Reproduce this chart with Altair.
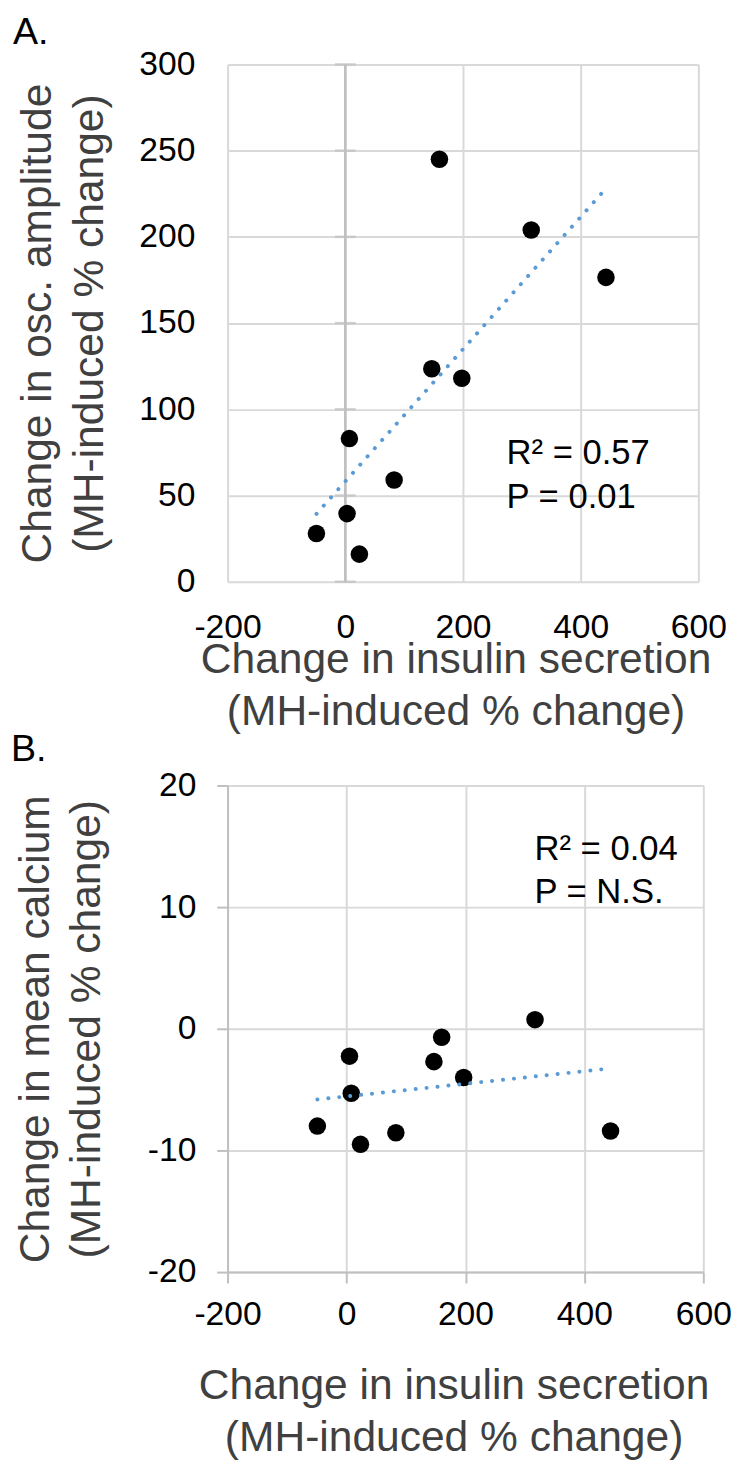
import altair as alt
import pandas as pd

# ---------------- data ----------------
# Panel A
insulin_a = [-49, 3, 7, 24, 83, 147, 160, 198, 316, 443]
osc_amplitude = [28, 39.5, 83, 16, 59, 123.5, 245, 118, 204, 176.5]
# Panel B
insulin_b = [-49, 5, 8, 23.5, 83, 147, 160, 197, 317, 444]
mean_calcium = [-8.0, -2.25, -5.3, -9.5, -8.55, -2.7, -0.7, -4.0, 0.75, -8.4]

x_ticks = [-200, 0, 200, 400, 600]
a_y_ticks = [0, 50, 100, 150, 200, 250, 300]
b_y_ticks = [-20, -10, 0, 10, 20]

a_stats = ["R\u00b2 = 0.57", "P = 0.01"]
a_stats_x = [274, 274]
a_stats_y = [68, 43]
b_stats = ["R\u00b2 = 0.04", "P = N.S."]
b_stats_x = [316, 316]
b_stats_y = [13.9, 10.3]

panel_a_label = ["A."]
panel_b_label = ["B."]
x_title = ["Change in insulin secretion", "(MH-induced % change)"]
a_y_title = ["Change in osc. amplitude", "(MH-induced % change)"]
b_y_title = ["Change in mean calcium", "(MH-induced % change)"]

FONT = "Liberation Sans"
GRID = "#d9d9d9"
AXIS = "#bfbfbf"
TREND = "#5B9BD5"
TITLE_COL = "#404040"
LABEL_EXPR = "'' + datum.value"

# ---------------- panel A ----------------
dfa = pd.DataFrame({"x": insulin_a, "y": osc_amplitude})
sxa = alt.Scale(domain=[-200, 600], nice=False, zero=False)
sya = alt.Scale(domain=[0, 300], nice=False, zero=False)

xa_axis = alt.Axis(values=x_ticks, title=x_title, labelExpr=LABEL_EXPR,
                   domain=False, ticks=False, grid=True,
                   labelPadding=29, titlePadding=-5, titleX=230.5)
ya_axis = alt.Axis(values=a_y_ticks, title=a_y_title, labelExpr=LABEL_EXPR,
                   domain=False, ticks=False, grid=True,
                   labelPadding=33, titlePadding=28)


def XA():
    return alt.X("x:Q", scale=sxa, axis=xa_axis)


def YA():
    return alt.Y("y:Q", scale=sya, axis=ya_axis)


zero_line_a = alt.Chart(pd.DataFrame({"x": [0]})).mark_rule(
    color=AXIS, strokeWidth=2.5
).encode(x=XA())
cross_ticks_a = alt.Chart(pd.DataFrame({"y": a_y_ticks, "x": [0] * len(a_y_ticks)})).mark_tick(
    orient="horizontal", size=21, thickness=2.5, color=AXIS
).encode(x=XA(), y=YA())
points_a = alt.Chart(dfa).mark_circle(size=314, color="black", opacity=1).encode(x=XA(), y=YA())
trend_a = alt.Chart(dfa).transform_regression("x", "y").mark_line(
    color=TREND, strokeWidth=4, strokeDash=[0.1, 11], strokeCap="round"
).encode(x=XA(), y=YA())
text_a = alt.Chart(pd.DataFrame({"x": a_stats_x, "y": a_stats_y, "t": a_stats})).mark_text(
    align="left", baseline="alphabetic", fontSize=35, font=FONT, color="black"
).encode(x=XA(), y=YA(), text="t:N")
letter_a = alt.Chart(pd.DataFrame({"t": panel_a_label})).mark_text(
    align="left", baseline="alphabetic", fontSize=38, font=FONT, color="black"
).encode(x=alt.value(-217), y=alt.value(-21), text="t:N")

chart_a = alt.layer(zero_line_a, cross_ticks_a, points_a, trend_a, text_a, letter_a).properties(
    width=476, height=523,
)

# ---------------- panel B ----------------
dfb = pd.DataFrame({"x": insulin_b, "y": mean_calcium})
sxb = alt.Scale(domain=[-200, 600], nice=False, zero=False)
syb = alt.Scale(domain=[-20, 20], nice=False, zero=False)

xb_axis = alt.Axis(values=x_ticks, title=x_title, labelExpr=LABEL_EXPR,
                   domain=True, domainColor=AXIS, domainWidth=2,
                   ticks=True, tickColor=AXIS, tickWidth=2, tickSize=11, grid=True,
                   labelPadding=14.5, titlePadding=34.5, titleX=228.5)
yb_axis = alt.Axis(values=b_y_ticks, title=b_y_title, labelExpr=LABEL_EXPR,
                   domain=True, domainColor=AXIS, domainWidth=2,
                   ticks=True, tickColor=AXIS, tickWidth=2, tickSize=11, grid=True,
                   labelPadding=21, titlePadding=39)


def XB():
    return alt.X("x:Q", scale=sxb, axis=xb_axis)


def YB():
    return alt.Y("y:Q", scale=syb, axis=yb_axis)


points_b = alt.Chart(dfb).mark_circle(size=314, color="black", opacity=1).encode(x=XB(), y=YB())
trend_b = alt.Chart(dfb).transform_regression("x", "y").mark_line(
    color=TREND, strokeWidth=4, strokeDash=[0.1, 11], strokeCap="round"
).encode(x=XB(), y=YB())
text_b = alt.Chart(pd.DataFrame({"x": b_stats_x, "y": b_stats_y, "t": b_stats})).mark_text(
    align="left", baseline="alphabetic", fontSize=35, font=FONT, color="black"
).encode(x=XB(), y=YB(), text="t:N")
letter_b = alt.Chart(pd.DataFrame({"t": panel_b_label})).mark_text(
    align="left", baseline="alphabetic", fontSize=38, font=FONT, color="black"
).encode(x=alt.value(-219), y=alt.value(-25), text="t:N")

chart_b = alt.layer(points_b, trend_b, text_b, letter_b).properties(
    width=481, height=492,
)

chart = alt.vconcat(chart_a, chart_b, spacing=-2).resolve_scale(
    x="independent", y="independent"
).properties(
    padding={"left": 3, "top": -2, "right": 0, "bottom": 0},
    background="white",
).configure_view(stroke=None).configure_axis(
    labelFont=FONT, titleFont=FONT, labelFontSize=34, titleFontSize=43,
    titleFontWeight="normal", labelColor="black", titleColor=TITLE_COL,
    gridColor=GRID, gridWidth=2, titleLineHeight=52, labelFlush=False,
    labelOverlap=False,
)

chart.save("out.html", embed_options={"renderer": "svg", "actions": False})
